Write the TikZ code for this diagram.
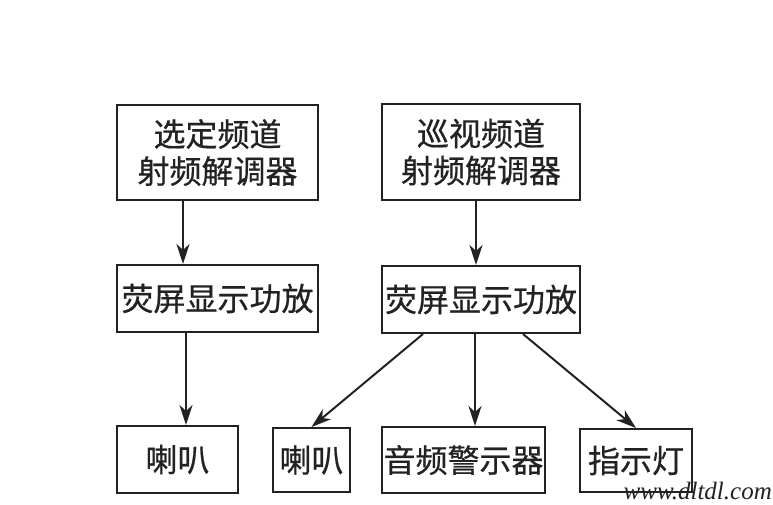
\documentclass[tikz,border=0pt]{standalone}
\usepackage{fontspec}
\usepackage{tikz}
\usetikzlibrary{positioning, arrows.meta}
\newfontfamily\cjk[FakeBold=0.6]{Noto Sans CJK SC}
\newfontfamily\wmfont{Liberation Serif}
\definecolor{inkgray}{HTML}{222222}

\begin{document}
\begin{tikzpicture}[
  x=1pt, y=-1pt,
  block/.style={
    rectangle, draw=inkgray, line width=2pt, inner sep=1pt,
    text=inkgray, font=\cjk\fontsize{32}{37}\selectfont, align=center
  },
  arr/.style={-{Stealth[length=20pt, width=13pt, inset=6pt]}, line width=2pt, color=inkgray},
]
\useasboundingbox (0,0) rectangle (773,505);

% Demodulators
\node[block, minimum width=201pt, minimum height=95pt] (selrf) at (217.5,152.5) {选定频道\\射频解调器};
\node[block, minimum width=198pt, minimum height=96pt] (patrf) at (481,152) {巡视频道\\射频解调器};

% Amplifiers
\node[block, minimum width=201pt, minimum height=67pt] (selamp) at (217.5,298.5) {荧屏显示功放};
\node[block, minimum width=198pt, minimum height=67pt] (patamp) at (481,299.5) {荧屏显示功放};

% Outputs
\node[block, minimum width=121pt, minimum height=67pt] (spkA) at (177.5,459.5) {喇叭};
\node[block, minimum width=77pt, minimum height=64pt] (spkB) at (311.5,460) {喇叭};
\node[block, minimum width=163pt, minimum height=66pt] (alarm) at (463.5,460) {音频警示器};
\node[block, minimum width=112pt, minimum height=63pt] (lamp) at (636,460.5) {指示灯};

\node[anchor=base east, inner sep=0pt, text=inkgray, font=\wmfont\itshape\fontsize{25}{27}\selectfont] (wmark) at (772,499) {www.dltdl.com};

% Arrows
\draw[arr] ([xshift=-34.5pt]selrf.south) -- ([xshift=-34.5pt]selamp.north);
\draw[arr] ([xshift=-5pt]patrf.south) -- ([xshift=-5pt]patamp.north);
\draw[arr] ([xshift=-31.5pt]selamp.south) -- ([xshift=8.5pt]spkA.north);
\draw[arr] ([xshift=-58pt]patamp.south) -- (spkB.north);
\draw[arr] ([xshift=-6pt]patamp.south) -- ([xshift=11.5pt]alarm.north);
\draw[arr] ([xshift=42pt]patamp.south) -- (lamp.north);

\end{tikzpicture}
\end{document}
